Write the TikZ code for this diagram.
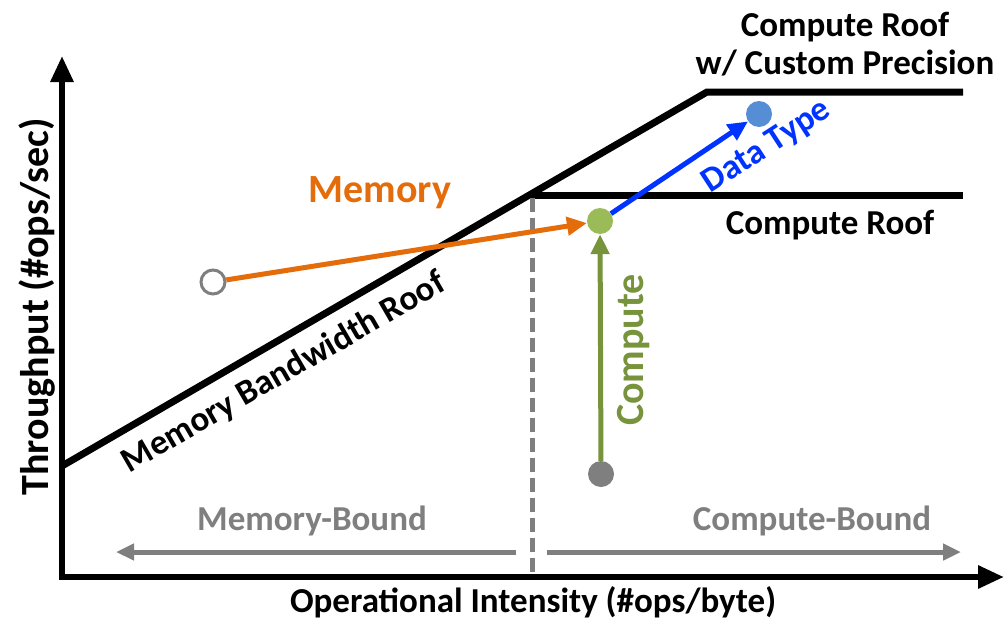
\documentclass[tikz,border=0pt]{standalone}
\usepackage{fontspec}
\setmainfont{Carlito}
\usetikzlibrary{arrows.meta}
\definecolor{orng}{HTML}{E46C0A}
\definecolor{grn}{HTML}{9BBB59}
\definecolor{dgrn}{HTML}{77933C}
\definecolor{blu}{HTML}{0033FF}
\definecolor{lblu}{HTML}{558ED5}
\definecolor{gry}{HTML}{7F7F7F}
\tikzset{
  lbl/.style={font=\fontsize{35}{40}\selectfont\bfseries, inner sep=0pt},
  big/.style={font=\fontsize{40}{46}\selectfont\bfseries},
  dot/.style={circle, minimum size=26pt, inner sep=0pt},
  axis/.style={line width=6pt, -{Triangle[length=26pt,width=22pt]}},
  roof/.style={line width=7pt, line join=miter},
  arr/.style={line width=5pt, -{Triangle[length=20pt,width=18pt]}},
  garr/.style={line width=5pt, gry, -{Triangle[length=18pt,width=16pt]}},
}
\begin{document}
\begin{tikzpicture}[x=1pt,y=-1pt]
\useasboundingbox (0,0) rectangle (1006,621);
% axes
\coordinate (ytip) at (62,56);
\coordinate (xtip) at (1004,577);
\draw[axis] (62,579) -- (ytip);
\draw[axis] (59,577) -- (xtip);
% roofs
\coordinate (m0) at (62,466);
\coordinate (knee) at (707,92);
\coordinate (top) at (963,92);
\coordinate (ridge) at (529,195);
\coordinate (cend) at (963,195);
\draw[roof] (m0) -- (knee) -- (top);
\draw[roof] (ridge) -- (cend);
% dashed divider
\coordinate (d0) at (532,198);
\coordinate (d1) at (532,574);
\draw[gry, line width=5pt, dash pattern=on 14pt off 6pt] (d0) -- (d1);
% bound arrows
\coordinate (mb0) at (516,552);
\coordinate (mb1) at (116,552);
\coordinate (cb0) at (547,552);
\coordinate (cb1) at (961,552);
\draw[garr] (mb0) -- (mb1);
\draw[garr] (cb0) -- (cb1);
\node[lbl, text=gry] (mbl) at (312,521) {Memory-Bound};
\node[lbl, text=gry] (cbl) at (812,521) {Compute-Bound};
% points
\node[dot, draw=gry, line width=3pt, fill=white, minimum size=24pt] (p0) at (213,282) {};
\node[dot, fill=grn] (p1) at (600,221) {};
\node[dot, fill=gry] (p2) at (601,474) {};
\node[dot, fill=lblu] (p3) at (759,114) {};
\draw[arr, orng] (p0) -- (p1);
\draw[arr, dgrn] (p2) -- (p1);
\draw[arr, blu] (p1) -- (p3);
% labels
\node[lbl, big, text=orng] (mem) at (380,193) {Memory};
\node[lbl, big, text=dgrn, rotate=90] (comp) at (634,350) {Compute};
\node[lbl, text=blu, rotate=33] (dt) at (767,147) {Data Type};
\node[lbl, rotate=30.1] (mbr) at (284,373) {Memory Bandwidth Roof};
\node[lbl] (cr) at (830,225) {Compute Roof};
\node[lbl, align=center] (ccr) at (845,44) {Compute Roof\\[-2pt]w/ Custom Precision};
\node[lbl, rotate=90, font=\fontsize{40}{46}\selectfont\bfseries] (ylab) at (37,307) {Throughput (\#ops/sec)};
\node[lbl] (xlab) at (533,602) {Operational Intensity (\#ops/byte)};
\end{tikzpicture}
\end{document}
